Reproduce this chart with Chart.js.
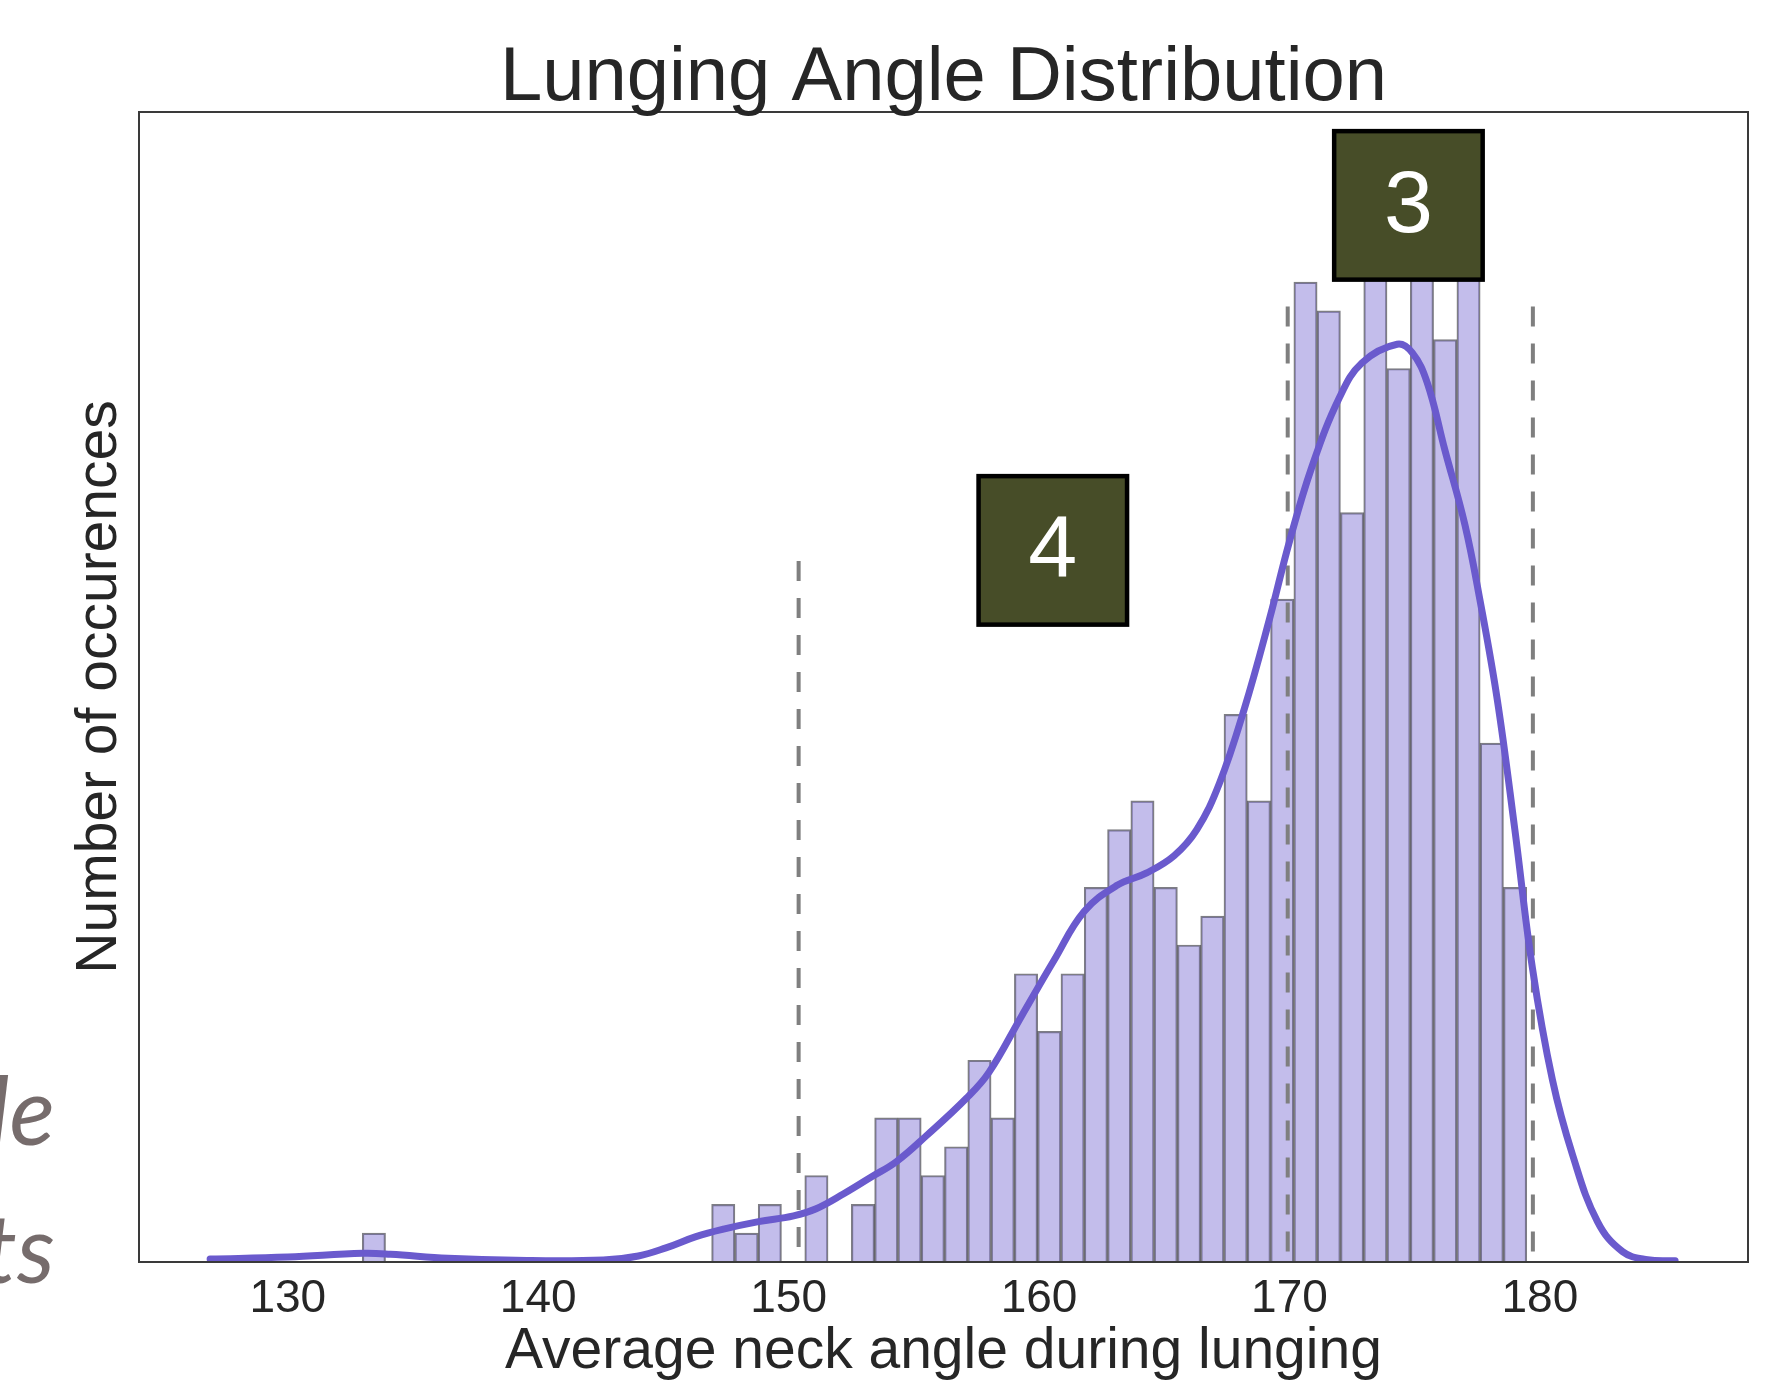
<!DOCTYPE html>
<html>
<head>
<meta charset="utf-8">
<title>Lunging Angle Distribution</title>
<script src="https://cdn.jsdelivr.net/npm/chart.js@4.4.1/dist/chart.umd.min.js"></script>
<style>
  html, body { margin: 0; padding: 0; background: #ffffff; }
  canvas { display: block; }
</style>
</head>
<body>
<canvas id="lunge-chart" width="1791" height="1385"></canvas>
<script>
// Histogram bins (centres, degrees) and counts
const binCenters = [
  133.44, 134.37, 135.30, 136.23, 137.16, 138.09, 139.02, 139.95, 140.88, 141.81,
  142.74, 143.67, 144.60, 145.53, 146.46, 147.39, 148.32, 149.25, 150.18, 151.11,
  152.04, 152.97, 153.90, 154.83, 155.76, 156.69, 157.62, 158.55, 159.48, 160.41,
  161.34, 162.27, 163.20, 164.13, 165.06, 165.99, 166.92, 167.85, 168.78, 169.71,
  170.64, 171.57, 172.50, 173.43, 174.36, 175.29, 176.22, 177.15, 178.08, 179.01
];
const binCounts = [
  1, 0, 0, 0, 0, 0, 0, 0, 0, 0,
  0, 0, 0, 0, 0, 2, 1, 2, 0, 3,
  0, 2, 5, 5, 3, 4, 7, 5, 10, 8,
  10, 13, 15, 16, 13, 11, 12, 19, 16, 23,
  34, 33, 26, 36, 31, 38, 32, 37, 18, 13
];

// KDE curve, sampled by eye (x in degrees, y in count units)
const kdeX = [
  126.9, 130.0, 133.0, 134.1, 136.4, 139.1, 142.6, 144.0, 145.1, 146.3,
  147.4, 148.8, 150.2, 151.1, 152.2, 153.3, 154.3, 155.5, 157.1, 158.0,
  159.3, 160.6, 161.8, 163.1, 164.3, 165.4, 166.3, 167.2, 168.2, 169.2,
  170.0, 170.9, 172.0, 172.9, 174.3, 174.9, 175.5, 176.2, 177.0, 177.6,
  178.3, 179.0, 179.7, 180.5, 181.3, 182.3, 183.3, 184.3, 185.4
];
const kdeY = [
  0.10, 0.17, 0.30, 0.27, 0.13, 0.06, 0.07, 0.21, 0.49, 0.88,
  1.14, 1.40, 1.60, 1.85, 2.37, 2.95, 3.48, 4.38, 5.68, 6.58,
  8.53, 10.47, 12.16, 13.06, 13.50, 14.10, 15.00, 16.60, 19.20, 22.30,
  25.00, 27.60, 30.00, 31.20, 31.84, 31.55, 30.51, 28.19, 25.60, 23.00,
  19.50, 15.00, 10.21, 6.32, 3.73, 1.40, 0.36, 0.08, 0.04
];

// Dashed reference lines (x position, top in count units)
const markerX = [150.4, 169.93, 179.72];
const markerTop = [24.32, 33.15, 33.15];

// Numbered boxes laid over the plot
const boxLabels = ['4', '3'];
const boxX = [160.55, 174.75];
const boxY = [24.69, 36.66];

const xTicks = [130, 140, 150, 160, 170, 180];
const xMin = 124.06, xMax = 188.31;
const yMax = 39.9;

const TEXT = '#262626';
const SANS = '"Liberation Sans", Arial, sans-serif';

// Title, frame, boxes and the clipped slide text
const overlayPlugin = {
  id: 'overlay',
  afterDatasetsDraw(chart) {
    const { ctx, chartArea, scales } = chart;
    ctx.save();

    // frame round the plot
    ctx.strokeStyle = '#3a3a3a';
    ctx.lineWidth = 2;
    ctx.strokeRect(chartArea.left, chartArea.top,
      chartArea.right - chartArea.left, chartArea.bottom - chartArea.top);

    // numbered boxes
    const size = 153;
    boxLabels.forEach((label, i) => {
      const cx = scales.x.getPixelForValue(boxX[i]);
      const cy = scales.y.getPixelForValue(boxY[i]);
      ctx.fillStyle = '#000000';
      ctx.fillRect(cx - size / 2, cy - size / 2, size, size);
      ctx.fillStyle = '#474d28';
      ctx.fillRect(cx - size / 2 + 4.5, cy - size / 2 + 4.5, size - 9, size - 9);
      ctx.fillStyle = '#ffffff';
      ctx.font = '88px ' + SANS;
      ctx.textAlign = 'center';
      ctx.textBaseline = 'alphabetic';
      ctx.fillText(label, cx, cy + 27);
    });

    // chart title, centred on the plot
    ctx.fillStyle = TEXT;
    ctx.font = '76px ' + SANS;
    ctx.textAlign = 'center';
    ctx.textBaseline = 'alphabetic';
    ctx.fillText('Lunging Angle Distribution', (chartArea.left + chartArea.right) / 2, 100);

    // slide text cut off at the left edge
    ctx.fillStyle = '#766c6c';
    ctx.font = 'italic 95px Lato, "Open Sans", sans-serif';
    ctx.textAlign = 'right';
    ctx.fillText('le', 55, 1145);
    ctx.fillText('ts', 55, 1283);

    ctx.restore();
  }
};

const datasets = [
  {
    type: 'line',
    label: 'KDE',
    data: kdeX.map((x, i) => ({ x: x, y: kdeY[i] })),
    borderColor: '#6a5acd',
    borderWidth: 7,
    borderCapStyle: 'round',
    borderJoinStyle: 'round',
    tension: 0.4,
    pointRadius: 0,
    fill: false,
    order: 1
  }
];

markerX.forEach((x, i) => {
  datasets.push({
    type: 'line',
    label: 'marker ' + (i + 1),
    data: [{ x: x, y: markerTop[i] }, { x: x, y: 0 }],
    borderColor: '#7f7f7f',
    borderWidth: 4,
    borderDash: [20, 17],
    pointRadius: 0,
    fill: false,
    order: 2
  });
});

datasets.push({
  type: 'bar',
  label: 'Occurences',
  data: binCenters.map((x, i) => ({ x: x, y: binCounts[i] })),
  backgroundColor: 'rgba(106, 90, 205, 0.4)',
  borderColor: 'rgba(20, 20, 30, 0.55)',
  borderWidth: 1.5,
  barPercentage: 1,
  categoryPercentage: 1,
  order: 3
});

new Chart(document.getElementById('lunge-chart').getContext('2d'), {
  type: 'bar',
  data: { datasets: datasets },
  options: {
    responsive: false,
    animation: false,
    devicePixelRatio: 1,
    layout: { padding: { top: 112, right: 43, left: 0, bottom: 0 } },
    plugins: {
      legend: { display: false },
      tooltip: { enabled: false },
      title: { display: false }
    },
    scales: {
      x: {
        type: 'linear',
        min: xMin,
        max: xMax,
        offset: false,
        grid: { display: false, drawTicks: false, offset: false },
        border: { display: false },
        afterBuildTicks: scale => { scale.ticks = xTicks.map(v => ({ value: v })); },
        afterFit: scale => { scale.height = 123; },
        ticks: {
          color: TEXT,
          padding: 14,
          maxRotation: 0,
          font: { family: SANS, size: 46, lineHeight: 1 }
        },
        title: {
          display: true,
          text: 'Average neck angle during lunging',
          color: TEXT,
          padding: { top: 0, bottom: 4.5 },
          font: { family: SANS, size: 57, lineHeight: 1 }
        }
      },
      y: {
        type: 'linear',
        min: 0,
        max: yMax,
        grid: { display: false, drawTicks: false },
        border: { display: false },
        ticks: { display: false },
        afterFit: scale => { scale.width = 139; },
        title: {
          display: true,
          text: 'Number of occurences',
          color: TEXT,
          padding: { top: 71.5, bottom: 0 },
          font: { family: SANS, size: 57, lineHeight: 1 }
        }
      }
    }
  },
  plugins: [overlayPlugin]
});
</script>
</body>
</html>
